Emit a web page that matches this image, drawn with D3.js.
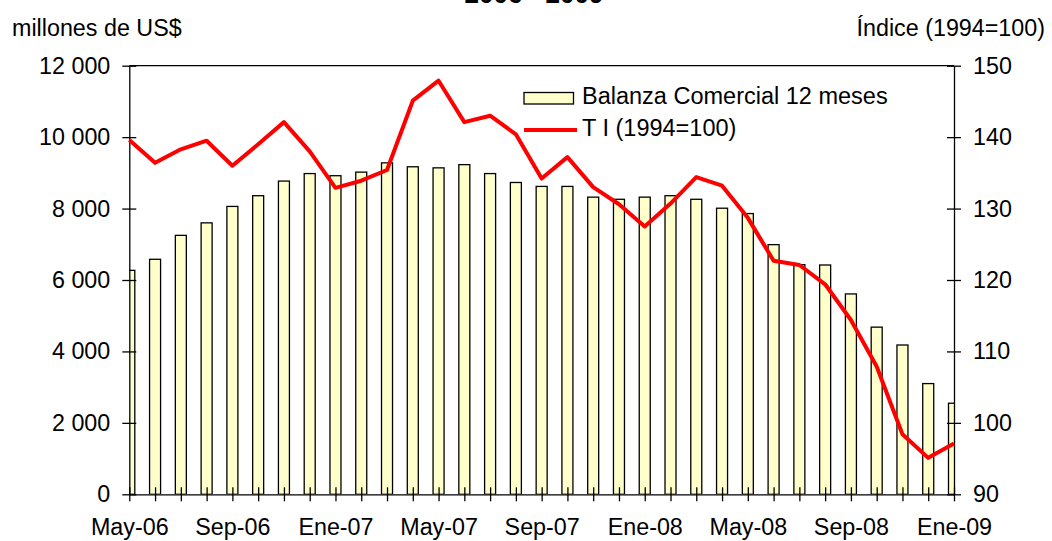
<!DOCTYPE html>
<html>
<head>
<meta charset="utf-8">
<script src="https://cdn.jsdelivr.net/npm/d3@7"></script>
<style>
  body { margin: 0; background: #fff; }
  svg { display: block; font-family: "Liberation Sans", Arial, sans-serif; }
  .axis text { font-size: 23.3px; fill: #000; font-family: "Liberation Sans", Arial, sans-serif; }
  .axis path, .axis line { stroke: #000; stroke-width: 1.3; }
</style>
</head>
<body>
<svg id="chart" width="1052" height="541"></svg>
<script>
const months = ["May-06","Jun-06","Jul-06","Ago-06","Sep-06","Oct-06","Nov-06","Dic-06",
  "Ene-07","Feb-07","Mar-07","Abr-07","May-07","Jun-07","Jul-07","Ago-07","Sep-07","Oct-07","Nov-07","Dic-07",
  "Ene-08","Feb-08","Mar-08","Abr-08","May-08","Jun-08","Jul-08","Ago-08","Sep-08","Oct-08","Nov-08","Dic-08",
  "Ene-09"];
const balanza = [6270,6580,7250,7600,8060,8360,8770,8980,8920,9020,
  9280,9170,9140,9230,8980,8730,8620,8620,8320,8260,
  8320,8360,8260,8010,7860,6990,6430,6420,5610,4680,
  4180,3100,2550];
const ti = [139.6,136.4,138.3,139.5,136.0,139.0,142.1,138.0,132.9,133.9,
  135.4,145.1,147.9,142.1,143.0,140.4,134.2,137.2,133.0,130.6,
  127.5,130.7,134.4,133.2,128.7,122.7,122.1,119.4,114.4,107.9,
  98.4,95.1,97.1];
const leftTicks = [0,2000,4000,6000,8000,10000,12000];
const rightTicks = [90,100,110,120,130,140,150];

const pLeft = 129.3, pRight = 954, pTop = 65.7, pBottom = 494.3;

const svg = d3.select("#chart");

const xScale = d3.scalePoint().domain(months).range([pLeft, pRight]).padding(0);
const yLeft = d3.scaleLinear().domain([0, 12000]).range([pBottom, pTop]);
const yRight = d3.scaleLinear().domain([90, 150]).range([pBottom, pTop]);

const fmt = d => d3.format(",")(d).replace(/,/g, " ");

svg.append("defs").append("clipPath").attr("id", "plotClip")
  .append("rect").attr("x", pLeft).attr("y", pTop - 5)
  .attr("width", pRight - pLeft).attr("height", pBottom - pTop + 5);

// bars
svg.append("g").attr("clip-path", "url(#plotClip)")
  .selectAll("rect")
  .data(balanza)
  .enter()
  .append("rect")
  .attr("x", (d, i) => xScale(months[i]) - 5.5)
  .attr("width", 11)
  .attr("y", d => yLeft(d))
  .attr("height", d => pBottom - yLeft(d))
  .attr("fill", "#FFFFCC")
  .attr("stroke", "#000")
  .attr("stroke-width", 1.3);

// top border
svg.append("line")
  .attr("x1", pLeft).attr("x2", pRight)
  .attr("y1", pTop).attr("y2", pTop)
  .attr("stroke", "#000").attr("stroke-width", 1.3);

// left axis
const gLeft = svg.append("g").attr("class", "axis")
  .attr("transform", `translate(${pLeft},0)`)
  .call(d3.axisLeft(yLeft).tickValues(leftTicks).tickFormat(fmt).tickSizeInner(7).tickSizeOuter(0).tickPadding(12));
gLeft.selectAll(".tick line").attr("x1", 7);

// right axis
const gRight = svg.append("g").attr("class", "axis")
  .attr("transform", `translate(${pRight},0)`)
  .call(d3.axisRight(yRight).tickValues(rightTicks).tickSizeInner(7).tickSizeOuter(0).tickPadding(12));
gRight.selectAll(".tick line").attr("x1", -7);

// bottom axis
const gBottom = svg.append("g").attr("class", "axis")
  .attr("transform", `translate(0,${pBottom})`)
  .call(d3.axisBottom(xScale).tickFormat((d, i) => i % 4 === 0 ? d : "").tickSizeInner(7).tickSizeOuter(0).tickPadding(16));
gBottom.selectAll(".tick line").attr("y1", -7);
gBottom.selectAll(".tick text").attr("dy", "0.75em");

// line
const line = d3.line()
  .x((d, i) => xScale(months[i]))
  .y(d => yRight(d));
svg.append("path")
  .datum(ti)
  .attr("d", line)
  .attr("fill", "none")
  .attr("stroke", "#FF0000")
  .attr("stroke-width", 4)
  .attr("stroke-linejoin", "round");

// titles
svg.append("text").attr("x", 534).attr("y", 2.5)
  .attr("text-anchor", "middle").attr("font-size", 26).attr("font-weight", "bold")
  .text("2006 - 2009");
svg.append("text").attr("x", 12).attr("y", 36)
  .attr("font-size", 23.3).text("millones de US$");
svg.append("text").attr("x", 1045).attr("y", 36)
  .attr("text-anchor", "end").attr("font-size", 23.3).text("Índice (1994=100)");

// legend
const legend = svg.append("g");
legend.append("rect").attr("x", 524).attr("y", 92.5).attr("width", 49.5).attr("height", 11.5)
  .attr("fill", "#FFFFCC").attr("stroke", "#000").attr("stroke-width", 1.3);
legend.append("text").attr("x", 582).attr("y", 103.5).attr("font-size", 23.5)
  .text("Balanza Comercial 12 meses");
legend.append("line").attr("x1", 524).attr("x2", 577).attr("y1", 130).attr("y2", 130)
  .attr("stroke", "#FF0000").attr("stroke-width", 4);
legend.append("text").attr("x", 582).attr("y", 135.5).attr("font-size", 23.5)
  .text("T I (1994=100)");
</script>
</body>
</html>
